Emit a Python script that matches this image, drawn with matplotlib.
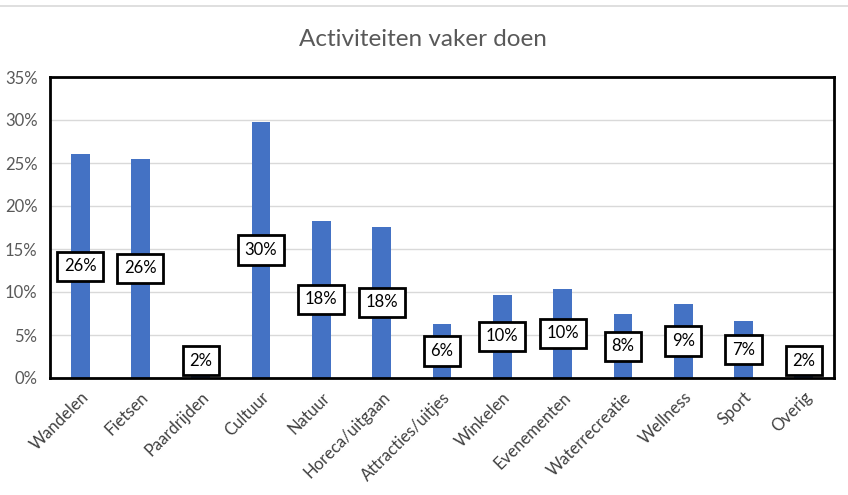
import matplotlib
matplotlib.use('Agg')
from matplotlib import pyplot as plt
from matplotlib.lines import Line2D
from matplotlib.ticker import PercentFormatter

categories = ['Wandelen', 'Fietsen', 'Paardrijden', 'Cultuur', 'Natuur', 'Horeca/uitgaan',
              'Attracties/uitjes', 'Winkelen', 'Evenementen', 'Waterrecreatie', 'Wellness',
              'Sport', 'Overig']
values = [26.0, 25.5, 1.6, 29.8, 18.3, 17.6, 6.3, 9.7, 10.4, 7.4, 8.6, 6.6, 1.6]
labels = ['26%', '26%', '2%', '30%', '18%', '18%', '6%', '10%', '10%', '8%', '9%', '7%', '2%']
yticks = [0, 5, 10, 15, 20, 25, 30, 35]

plt.rcParams['font.family'] = ['Lato', 'DejaVu Sans']

fig = plt.figure(figsize=(8.48, 4.95), dpi=100)
ax = fig.add_axes([50 / 848, 1 - 378 / 495, 784 / 848, 301 / 495])

x = range(len(categories))
ax.bar(x, values, width=0.31, color='#4472C4', zorder=2)

for i, v in enumerate(values):
    ypos = max(v / 2, 2.0)
    ax.text(i, ypos, labels[i], ha='center', va='center', fontsize=12, color='black', zorder=3,
            bbox=dict(boxstyle='square,pad=0.4', facecolor='white', edgecolor='black', linewidth=2))

ax.set_xlim(-0.5, len(categories) - 0.5)
ax.set_ylim(0, 35)
ax.set_yticks(yticks)
ax.yaxis.set_major_formatter(PercentFormatter(decimals=0))
ax.grid(axis='y', color='#D9D9D9', linewidth=1, zorder=0)
ax.set_axisbelow(True)

ax.set_xticks(list(x))
ax.set_xticklabels(categories, rotation=45, ha='right', rotation_mode='anchor', fontsize=12, color='#404040')
ax.tick_params(axis='y', labelsize=12, labelcolor='#595959', length=0, pad=9)
ax.tick_params(axis='x', length=0, pad=8)

for s in ax.spines.values():
    s.set_color('black')
    s.set_linewidth(2)

fig.text(423 / 848, 1 - 40 / 495, 'Activiteiten vaker doen', ha='center', va='center',
         fontsize=17.5, color='#595959')
fig.add_artist(Line2D([0, 1], [1 - 6 / 495, 1 - 6 / 495], color='#D9D9D9', linewidth=1.2))

fig.savefig('out.png', dpi=100)
